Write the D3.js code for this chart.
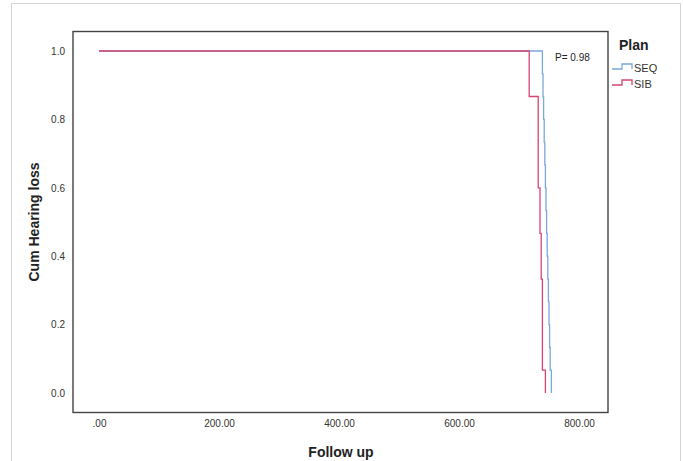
<!DOCTYPE html>
<html>
<head>
<meta charset="utf-8">
<script src="https://cdn.jsdelivr.net/npm/d3@7/dist/d3.min.js"></script>
<style>
  html, body { margin: 0; padding: 0; background: #fff; }
  svg { display: block; font-family: Arial, "Liberation Sans", sans-serif; }
</style>
</head>
<body>
<svg id="chart" width="683" height="461"></svg>
<script>
// ---- data ----
const seriesNames = ["SEQ", "SIB"];
const seqTimes  = [0, 739, 740, 741, 742, 743, 744, 745, 746, 747, 748, 749, 750, 751, 752, 754];
const seqValues = [1.0, 0.933, 0.867, 0.80, 0.733, 0.667, 0.60, 0.533, 0.467, 0.40, 0.333, 0.267, 0.20, 0.133, 0.067, 0.0];
const sibTimes  = [0, 717, 732, 735, 737, 739, 744];
const sibValues = [1.0, 0.867, 0.60, 0.467, 0.333, 0.067, 0.0];
const xTicks = [0, 200, 400, 600, 800];
const yTicks = [0.0, 0.2, 0.4, 0.6, 0.8, 1.0];
const pText = "P= 0.98";
const colors = { SEQ: "#7aa8de", SIB: "#d4466f" };

const svg = d3.select("#chart");

// outer light border
svg.append("rect").attr("x", 11.5).attr("y", 3.5).attr("width", 669).attr("height", 470)
  .attr("fill", "none").attr("stroke", "#d4d4d4").attr("stroke-width", 1);

const x = d3.scaleLinear().domain([0, 800]).range([99, 579]);
const y = d3.scaleLinear().domain([0, 1]).range([393, 51]);

// plot frame
svg.append("rect").attr("x", 73).attr("y", 31.5).attr("width", 535).attr("height", 381)
  .attr("fill", "none").attr("stroke", "#444").attr("stroke-width", 1.4);

// axes (labels only)
const xAxis = d3.axisBottom(x).tickValues(xTicks).tickSize(0)
  .tickFormat(v => v === 0 ? ".00" : d3.format(".2f")(v));
const gx = svg.append("g").attr("transform", "translate(0,417)").call(xAxis);
gx.select(".domain").remove();
gx.selectAll("text").attr("font-size", 10).attr("fill", "#333").attr("font-family", "Arial, 'Liberation Sans', sans-serif");

const yAxis = d3.axisLeft(y).tickValues(yTicks).tickSize(0).tickFormat(d3.format(".1f"));
const gy = svg.append("g").attr("transform", "translate(68,0)").call(yAxis);
gy.select(".domain").remove();
gy.selectAll("text").attr("font-size", 10).attr("fill", "#333").attr("dx", 0).attr("font-family", "Arial, 'Liberation Sans', sans-serif");

// step lines
const line = d3.line().x(d => x(d[0])).y(d => y(d[1])).curve(d3.curveStepAfter);
const seqPts = seqTimes.map((t, i) => [t, seqValues[i]]);
const sibPts = sibTimes.map((t, i) => [t, sibValues[i]]);
svg.append("path").attr("d", line(seqPts)).attr("fill", "none")
  .attr("stroke", colors.SEQ).attr("stroke-width", 1.3);
svg.append("path").attr("d", line(sibPts)).attr("fill", "none")
  .attr("stroke", colors.SIB).attr("stroke-width", 1.3);

// p-value
svg.append("text").attr("x", 555).attr("y", 61).attr("font-size", 10).attr("fill", "#222").text(pText);

// axis titles
svg.append("text").attr("x", 341).attr("y", 457).attr("text-anchor", "middle")
  .attr("font-size", 14).attr("font-weight", "bold").attr("fill", "#222").text("Follow up");
svg.append("text").attr("transform", "translate(39,222) rotate(-90)").attr("text-anchor", "middle")
  .attr("font-size", 14).attr("font-weight", "bold").attr("fill", "#222").text("Cum Hearing loss");

// legend
svg.append("text").attr("x", 619).attr("y", 50).attr("font-size", 14).attr("font-weight", "bold")
  .attr("fill", "#222").text("Plan");
seriesNames.forEach((name, i) => {
  const cy = 69 + i * 16;
  const sym = d3.path();
  sym.moveTo(612, cy); sym.lineTo(622, cy); sym.lineTo(622, cy - 5);
  sym.lineTo(632, cy - 5); sym.lineTo(632, cy);
  svg.append("path").attr("d", sym.toString()).attr("fill", "none")
    .attr("stroke", colors[name]).attr("stroke-width", 1.3);
  svg.append("text").attr("x", 634).attr("y", cy + 3).attr("font-size", 11)
    .attr("fill", "#333").text(name);
});
</script>
</body>
</html>
